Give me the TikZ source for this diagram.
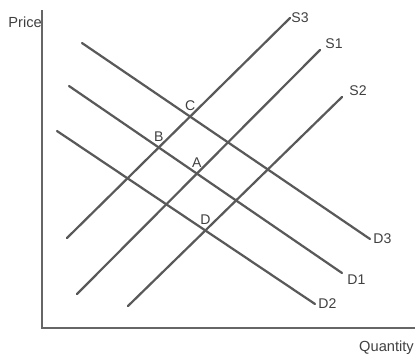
\documentclass[tikz,border=0pt]{standalone}
\usepackage{fontspec}
\setmainfont{Liberation Sans}
\usetikzlibrary{positioning,calc}

\begin{document}
\begin{tikzpicture}[
    x=0.03cm, y=-0.03cm,
    axis/.style={
        draw=black!60,
        line width=1.7pt
    },
    curve/.style={
        draw=black!65,
        line width=1.9pt,
        line cap=round
    },
    curvelabel/.style={
        font=\fontsize{12}{13}\selectfont,
        text=black!75,
        inner sep=1pt
    },
    pointlabel/.style={
        font=\fontsize{12}{13}\selectfont,
        text=black!75,
        inner sep=1pt,
        above=4pt
    }
]
\useasboundingbox (0,0) rectangle (415,356);

% Axes
\coordinate (top) at (42,10);
\coordinate (origin) at (42,328);
\coordinate (right) at (415,328);
\draw [axis] (top) -- (origin) -- (right);
\node [curvelabel, anchor=east, inner sep=0pt, font=\fontsize{12.5}{13}\selectfont] (price) at (42,22) {Price};
\node [curvelabel, anchor=east, inner sep=0pt, font=\fontsize{12.5}{13}\selectfont] (quantity) at (414,348) {Quantity};

% Supply curves
\coordinate (s3a) at (67,238);
\coordinate (s3b) at (290,18);
\coordinate (s1a) at (77,294);
\coordinate (s1b) at (320,50);
\coordinate (s2a) at (128,306);
\coordinate (s2b) at (342,97);
\draw [curve] (s3a) -- (s3b);
\draw [curve] (s1a) -- (s1b);
\draw [curve] (s2a) -- (s2b);
\node [curvelabel, anchor=west] (s3) at (s3b) {S3};
\node [curvelabel, anchor=south west] (s1) at ($(s1b)+(4,0)$) {S1};
\node [curvelabel, anchor=south west] (s2) at ($(s2b)+(6,0)$) {S2};

% Demand curves
\coordinate (d3a) at (82,43);
\coordinate (d3b) at (370,239);
\coordinate (d1a) at (69,86);
\coordinate (d1b) at (342,273);
\coordinate (d2a) at (57,131);
\coordinate (d2b) at (315,304);
\draw [curve] (d3a) -- (d3b);
\draw [curve] (d1a) -- (d1b);
\draw [curve] (d2a) -- (d2b);
\node [curvelabel, anchor=west] (d3) at ($(d3b)+(2,0)$) {D3};
\node [curvelabel, anchor=north west] (d1) at ($(d1b)+(4,0)$) {D1};
\node [curvelabel, anchor=west] (d2) at ($(d2b)+(2,0)$) {D2};

% Equilibrium points
\coordinate (ptC) at (intersection of s3a--s3b and d3a--d3b);
\coordinate (ptB) at (intersection of s3a--s3b and d1a--d1b);
\coordinate (ptA) at (intersection of s1a--s1b and d1a--d1b);
\coordinate (ptD) at (intersection of s2a--s2b and d2a--d2b);
\node [pointlabel] (labC) at (ptC) {C};
\node [pointlabel] (labB) at (ptB) {B};
\node [pointlabel] (labA) at (ptA) {A};
\node [pointlabel] (labD) at (ptD) {D};

\end{tikzpicture}
\end{document}
